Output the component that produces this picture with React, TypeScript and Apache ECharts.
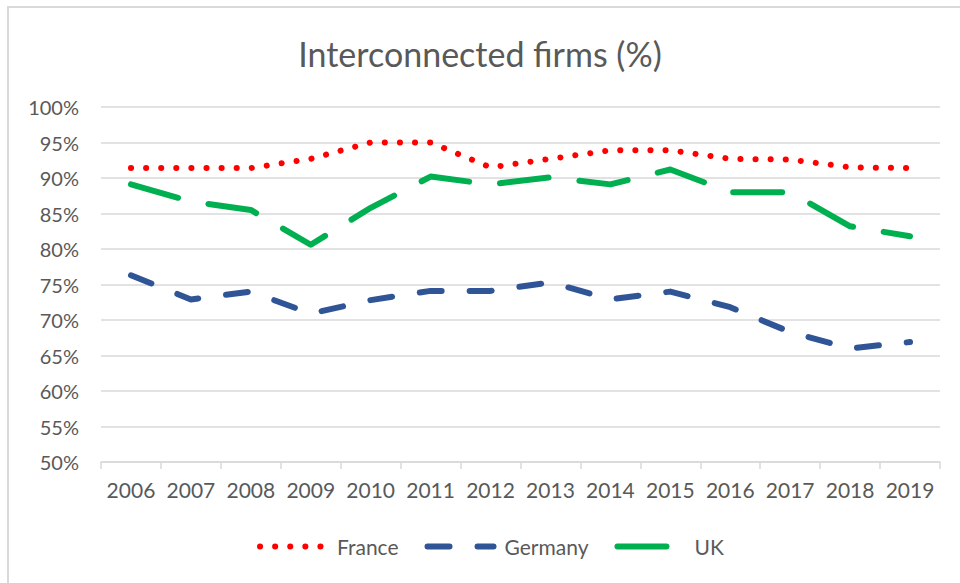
import React, { useEffect, useRef } from "react";
import * as echarts from "echarts";

const years = ["2006", "2007", "2008", "2009", "2010", "2011", "2012", "2013", "2014", "2015", "2016", "2017", "2018", "2019"];
const france = [91.4, 91.4, 91.4, 92.7, 95.0, 95.0, 91.5, 92.7, 93.9, 93.9, 92.7, 92.6, 91.5, 91.4];
const germany = [76.3, 72.9, 74.0, 70.9, 72.8, 74.1, 74.1, 75.3, 72.9, 74.0, 71.8, 68.3, 66.0, 66.9];
const uk = [89.1, 86.7, 85.5, 80.6, 85.8, 90.2, 89.1, 90.1, 89.1, 91.2, 88.0, 88.0, 83.2, 81.8];

const FONT = "Lato, 'Noto Sans', sans-serif";
const GREY = "#595959";

export default function App() {
  const ref = useRef<HTMLDivElement>(null);
  useEffect(() => {
    if (!ref.current) return;
    const chart = echarts.init(ref.current, undefined, { renderer: "svg" });
    chart.setOption({
      animation: false,
      backgroundColor: "#ffffff",
      title: {
        text: "Interconnected firms (%)",
        left: "center",
        top: 31,
        textStyle: { fontFamily: FONT, fontSize: 34, fontWeight: "normal", color: GREY },
      },
      graphic: [
        { type: "line", shape: { x1: 7, y1: 7, x2: 960, y2: 7 }, style: { stroke: "#d9d9d9", lineWidth: 2 } },
        { type: "line", shape: { x1: 8, y1: 7, x2: 8, y2: 583 }, style: { stroke: "#d9d9d9", lineWidth: 2 } },
      ],
      grid: { left: 101, right: 20, top: 107, bottom: 121, containLabel: false },
      legend: {
        left: 252,
        top: 531,
        itemWidth: 66,
        itemHeight: 10,
        itemGap: 26,
        itemStyle: { opacity: 0 },
        lineStyle: { width: 6, cap: "round" },
        textStyle: { fontFamily: FONT, fontSize: 21, color: GREY, padding: [0, 0, 0, 6] },
        data: ["France", "Germany", "UK"],
      },
      xAxis: {
        type: "category",
        data: years,
        boundaryGap: true,
        axisLine: { lineStyle: { color: "#d9d9d9", width: 1.5 } },
        axisTick: { show: true, length: 7, lineStyle: { color: "#d9d9d9", width: 1.5 } },
        axisLabel: { interval: 0, fontFamily: FONT, fontSize: 21, color: GREY, margin: 17 },
      },
      yAxis: {
        type: "value",
        min: 50,
        max: 100,
        interval: 5,
        axisLine: { show: false },
        axisTick: { show: false },
        axisLabel: { formatter: "{value}%", fontFamily: FONT, fontSize: 20, color: GREY, margin: 22 },
        splitLine: { lineStyle: { color: "#d9d9d9", width: 1.5 } },
      },
      series: [
        {
          name: "France",
          type: "line",
          data: france,
          symbol: "none",
          color: "#ff0000",
          lineStyle: { color: "#ff0000", width: 6, type: [0.1, 15], cap: "round", join: "round" },
        },
        {
          name: "Germany",
          type: "line",
          data: germany,
          symbol: "none",
          color: "#2f5597",
          lineStyle: { color: "#2f5597", width: 6, type: [22, 28], cap: "round", join: "round" },
        },
        {
          name: "UK",
          type: "line",
          data: uk,
          symbol: "none",
          color: "#00b050",
          lineStyle: { color: "#00b050", width: 6, type: [49, 31], cap: "round", join: "round" },
        },
      ],
    });
    return () => chart.dispose();
  }, []);
  return <div ref={ref} style={{ position: "fixed", left: 0, top: 0, width: 960, height: 583 }} />;
}
